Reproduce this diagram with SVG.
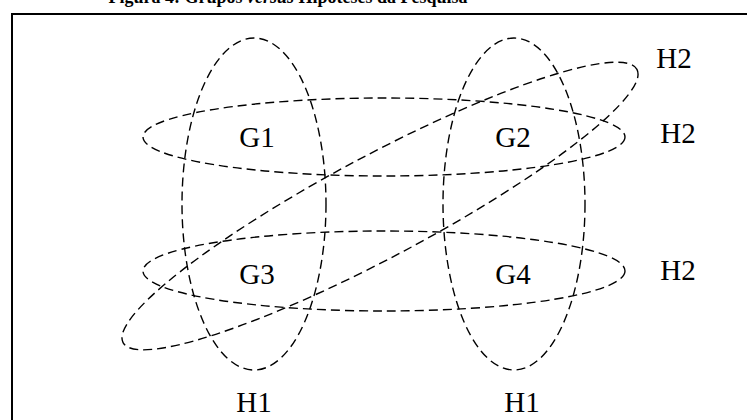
<svg xmlns="http://www.w3.org/2000/svg" width="747" height="420" viewBox="0 0 747 420">
<style>
.frame{fill:none;stroke:#000;stroke-width:2}
.set{fill:none;stroke:#000;stroke-width:1.4;stroke-dasharray:9 5}
.lbl{font-family:"Liberation Serif","Times New Roman",serif;font-size:29px;fill:#000;text-anchor:middle}
.title{font-family:"Liberation Serif","Times New Roman",serif;font-size:18px;font-weight:bold;fill:#000;text-anchor:middle}
</style>
<rect width="747" height="420" fill="#fff"/>
<text class="title" x="288" y="3">Figura 4: Grupos <tspan font-style="italic">versus</tspan> Hipóteses da Pesquisa</text>
<rect class="frame" x="12" y="14" width="750" height="420"/>
<g id="connectors">
<g id="H1-left"><ellipse class="set" cx="254" cy="204" rx="72" ry="166"/></g>
<g id="H1-right"><ellipse class="set" cx="514" cy="204" rx="71" ry="166"/></g>
<g id="H2-top"><ellipse class="set" cx="384" cy="137" rx="241" ry="39"/></g>
<g id="H2-bottom"><ellipse class="set" cx="384" cy="271" rx="241" ry="40"/></g>
<g id="H2-diagonal"><ellipse class="set" cx="380" cy="206" rx="291" ry="51" transform="rotate(-28 380 206)"/></g>
</g>
<g id="G1"><text class="lbl" x="257" y="147">G1</text></g>
<g id="G2"><text class="lbl" x="513" y="147">G2</text></g>
<g id="G3"><text class="lbl" x="257" y="284">G3</text></g>
<g id="G4"><text class="lbl" x="513" y="284">G4</text></g>
<g id="label-H2-a"><text class="lbl" x="674" y="68">H2</text></g>
<g id="label-H2-b"><text class="lbl" x="678" y="143">H2</text></g>
<g id="label-H2-c"><text class="lbl" x="678" y="280">H2</text></g>
<g id="label-H1-a"><text class="lbl" x="254" y="412">H1</text></g>
<g id="label-H1-b"><text class="lbl" x="522" y="412">H1</text></g>
</svg>
